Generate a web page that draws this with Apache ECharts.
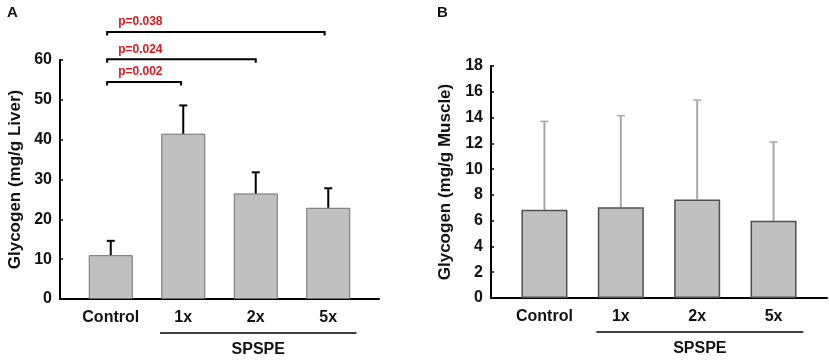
<!DOCTYPE html>
<html>
<head>
<meta charset="utf-8">
<script src="https://cdn.jsdelivr.net/npm/echarts@6/dist/echarts.min.js"></script>
<style>
  html, body { margin: 0; padding: 0; background: #fff; }
  #chart { width: 829px; height: 361px; }
</style>
</head>
<body>
<div id="chart"></div>
<script>
var categories = ['Control', '1x', '2x', '5x'];
var catPos = [0, 1, 2, 3];

// panel A: liver glycogen (mean, sd)
var liverMean = [11.0, 41.5, 26.5, 22.9];
var liverSd = [3.6, 7.1, 5.3, 4.9];

// panel B: muscle glycogen (mean, sd)
var muscleMean = [6.85, 7.05, 7.65, 6.0];
var muscleSd = [6.85, 7.1, 7.7, 6.1];

// significance brackets on panel A
var pLabels = ['p=0.002', 'p=0.024', 'p=0.038'];
var pFrom = [-0.05, -0.05, -0.05];
var pTo = [0.97, 2.0, 2.95];
var pLevel = [54.5, 60.2, 67.0];

// group underline below x labels
var groupLabel = 'SPSPE';
var groupFrom = 0.68;
var groupTo = 3.39;

var font = "'Liberation Sans', Arial, sans-serif";

var chart = echarts.init(document.getElementById('chart'));

function barData(means) {
  return means.map(function (m, i) { return [catPos[i], m]; });
}

function errData(means, sds) {
  return means.map(function (m, i) { return [catPos[i], m, sds[i]]; });
}

function errorItem(color, lw, capHalf, capLw) {
  return function (params, api) {
    var x = api.value(0), m = api.value(1), s = api.value(2);
    var p0 = api.coord([x, m]);
    var p1 = api.coord([x, m + s]);
    return {
      type: 'group',
      children: [
        { type: 'line', shape: { x1: p0[0], y1: p0[1], x2: p1[0], y2: p1[1] },
          style: { stroke: color, lineWidth: lw } },
        { type: 'line', shape: { x1: p1[0] - capHalf, y1: p1[1], x2: p1[0] + capHalf, y2: p1[1] },
          style: { stroke: color, lineWidth: capLw } }
      ]
    };
  };
}

function groupItem(params, api) {
  var a = api.coord([api.value(0), 0]);
  var b = api.coord([api.value(1), 0]);
  var y = a[1] + 34;
  return {
    type: 'group',
    children: [
      { type: 'line', shape: { x1: a[0], y1: y, x2: b[0], y2: y },
        style: { stroke: '#000', lineWidth: 1.5 } },
      { type: 'text', x: (a[0] + b[0]) / 2, y: y + 17,
        style: { text: groupLabel, fill: '#111', font: 'bold 16px ' + font,
                 align: 'center', verticalAlign: 'middle' } }
    ]
  };
}

function bracketItem(params, api) {
  var a = api.coord([api.value(0), api.value(2)]);
  var b = api.coord([api.value(1), api.value(2)]);
  var drop = 3.5;
  return {
    type: 'group',
    children: [
      { type: 'polyline',
        shape: { points: [[a[0], a[1] + drop], [a[0], a[1]], [b[0], b[1]], [b[0], b[1] + drop]] },
        style: { stroke: '#000', lineWidth: 2, fill: null } },
      { type: 'text', x: a[0] + 11, y: a[1] - 10,
        style: { text: pLabels[params.dataIndex], fill: '#e3161b', font: 'bold 12px ' + font,
                 align: 'left', verticalAlign: 'middle' } }
    ]
  };
}

function xAxisOf(gridIndex) {
  return {
    type: 'value',
    gridIndex: gridIndex,
    min: -0.7,
    max: 3.7,
    splitLine: { show: false },
    axisTick: { show: false },
    axisLine: { onZero: false, lineStyle: { color: '#000', width: 2 } },
    axisLabel: {
      customValues: catPos,
      formatter: function (v) { return categories[Math.round(v)]; },
      color: '#111',
      fontFamily: font,
      fontWeight: 'bold',
      fontSize: 16,
      margin: 11
    }
  };
}

function yAxisOf(gridIndex, max, interval, name, gap) {
  return {
    type: 'value',
    gridIndex: gridIndex,
    min: 0,
    max: max,
    interval: interval,
    name: name,
    nameLocation: 'middle',
    nameGap: gap,
    nameTextStyle: { color: '#111', fontFamily: font, fontWeight: 'bold', fontSize: 17 },
    splitLine: { show: false },
    axisLine: { show: true, onZero: false, lineStyle: { color: '#000', width: 2 } },
    axisTick: { show: true, inside: true, length: 3, lineStyle: { color: '#000', width: 1.5 } },
    axisLabel: { color: '#111', fontFamily: font, fontWeight: 'bold', fontSize: 16, margin: 8 }
  };
}

var option = {
  animation: false,
  backgroundColor: '#fff',
  title: [
    { text: 'A', left: 7, top: 5, padding: 0,
      textStyle: { fontFamily: font, fontWeight: 'bold', fontSize: 15, color: '#111' } },
    { text: 'B', left: 437, top: 5, padding: 0,
      textStyle: { fontFamily: font, fontWeight: 'bold', fontSize: 15, color: '#111' } }
  ],
  grid: [
    { left: 60, top: 60, width: 319, height: 239 },
    { left: 491, top: 66, width: 336, height: 232 }
  ],
  xAxis: [xAxisOf(0), xAxisOf(1)],
  yAxis: [
    yAxisOf(0, 60, 10, 'Glycogen (mg/g Liver)', 36),
    yAxisOf(1, 18, 2, 'Glycogen (mg/g Muscle)', 37)
  ],
  series: [
    {
      type: 'bar', xAxisIndex: 0, yAxisIndex: 0, barWidth: 44,
      itemStyle: { color: '#c0c0c0', borderColor: '#707070', borderWidth: 1 },
      data: barData(liverMean)
    },
    {
      type: 'custom', xAxisIndex: 0, yAxisIndex: 0, clip: false, z: 3,
      renderItem: errorItem('#000', 2, 4, 2),
      encode: { x: 0, y: 1 },
      data: errData(liverMean, liverSd)
    },
    {
      type: 'custom', xAxisIndex: 0, yAxisIndex: 0, clip: false,
      renderItem: bracketItem,
      encode: { x: [0, 1], y: 2 },
      data: pLabels.map(function (t, i) { return [pFrom[i], pTo[i], pLevel[i]]; })
    },
    {
      type: 'custom', xAxisIndex: 0, yAxisIndex: 0, clip: false,
      renderItem: groupItem,
      encode: { x: [0, 1] },
      data: [[groupFrom, groupTo]]
    },
    {
      type: 'bar', xAxisIndex: 1, yAxisIndex: 1, barWidth: 46,
      itemStyle: { color: '#c0c0c0', borderColor: '#505050', borderWidth: 1.5 },
      data: barData(muscleMean)
    },
    {
      type: 'custom', xAxisIndex: 1, yAxisIndex: 1, clip: false, z: 1,
      renderItem: errorItem('#a6a6a6', 2, 4, 1.5),
      encode: { x: 0, y: 1 },
      data: errData(muscleMean, muscleSd)
    },
    {
      type: 'custom', xAxisIndex: 1, yAxisIndex: 1, clip: false,
      renderItem: groupItem,
      encode: { x: [0, 1] },
      data: [[groupFrom, groupTo]]
    }
  ]
};

chart.setOption(option);
</script>
</body>
</html>
